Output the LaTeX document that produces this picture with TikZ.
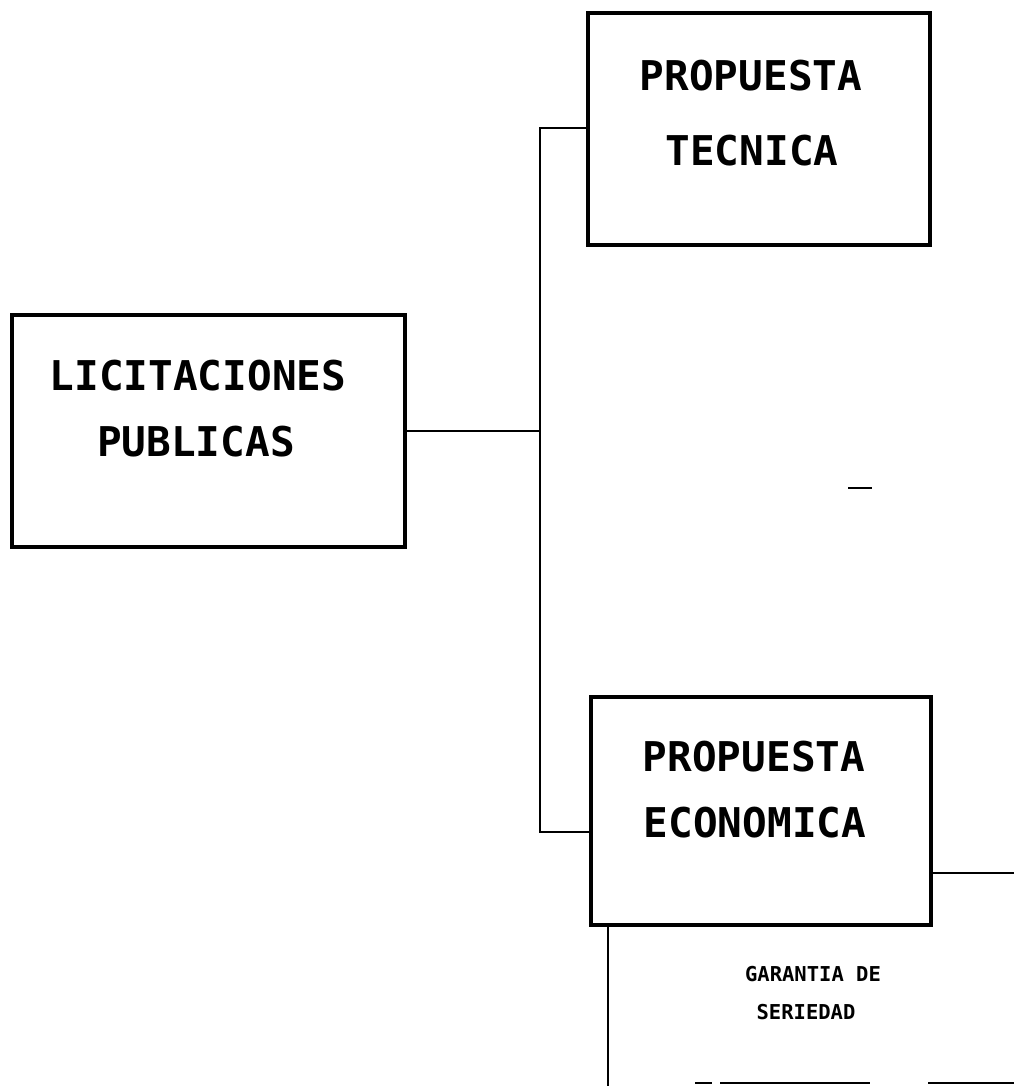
\documentclass[tikz,border=0pt]{standalone}
\usepackage{fontspec}
\newfontfamily\boxfont{DejaVu Sans Mono}[BoldFont={DejaVu Sans Mono Bold}]
\begin{document}
\begin{tikzpicture}[x=1pt,y=-1pt,
  boxst/.style={draw,line width=4pt,inner sep=0pt,rectangle},
  conn/.style={line width=2pt},
  thin/.style={line width=1.6pt},
  bigtxt/.style={inner sep=0pt,font=\boxfont\bfseries\fontsize{41}{41}\selectfont},
  smalltxt/.style={inner sep=0pt,font=\boxfont\bfseries\fontsize{20.5}{20.5}\selectfont}]
\useasboundingbox[fill=white] (0,0) rectangle (1014,1086);
% boxes
\node[boxst,minimum width=393pt,minimum height=232pt] (lic) at (208.5,431) {};
\node[boxst,minimum width=342pt,minimum height=232pt] (tec) at (759,129) {};
\node[boxst,minimum width=340pt,minimum height=228pt] (eco) at (761,811) {};
% texts
\node[bigtxt] (t1) at (198,376) {LICITACIONES};
\node[bigtxt] (t2) at (196,442) {PUBLICAS};
\node[bigtxt] (t3) at (751,76) {PROPUESTA};
\node[bigtxt] (t4) at (752,151) {TECNICA};
\node[bigtxt] (t5) at (754,757) {PROPUESTA};
\node[bigtxt] (t6) at (755,823) {ECONOMICA};
\node[smalltxt] (t7) at (813,974) {GARANTIA DE};
\node[smalltxt] (t8) at (806,1012) {SERIEDAD};
% connectors
\coordinate (bt) at (540,128);
\coordinate (bb) at (540,832);
\coordinate (rr) at (1014,873);
\coordinate (dd) at (608,1086);
\draw[conn] (tec.west |- bt) -- (bt) -- (bb) -- (eco.west |- bb);
\draw[conn] (lic.east) -- (lic.east -| bt);
\draw[conn] (eco.east |- rr) -- (rr);
\draw[conn] (eco.south -| dd) -- (dd);
% fragments
\coordinate (f1) at (848,488); \coordinate (f2) at (872,488);
\draw[thin] (f1) -- (f2);
\coordinate (g1) at (695,1083); \coordinate (g2) at (712,1083);
\coordinate (g3) at (720,1083); \coordinate (g4) at (870,1083);
\coordinate (g5) at (928,1083); \coordinate (g6) at (1014,1083);
\draw[thin] (g1) -- (g2) (g3) -- (g4) (g5) -- (g6);
\end{tikzpicture}
\end{document}
